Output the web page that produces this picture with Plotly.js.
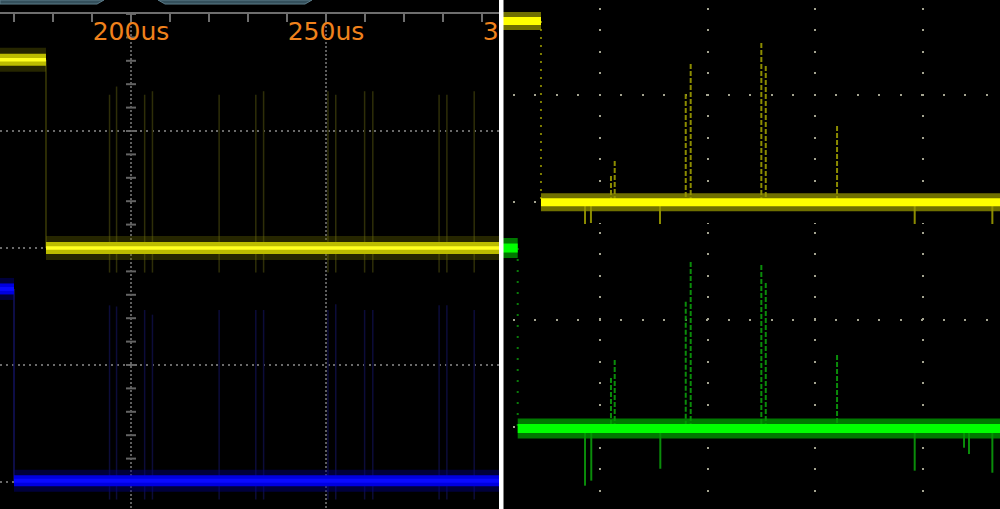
<!DOCTYPE html>
<html><head><meta charset="utf-8">
<script src="https://cdn.plot.ly/plotly-3.0.1.min.js"></script>
<style>html,body{margin:0;padding:0;background:#000;}#chart{width:1000px;height:509px;}</style>
</head><body><div id="chart"></div>
<script>
// ===== Left capture: time in microseconds, vertical in divisions =====
const leftTickVals = [200, 250, 300];
const leftTickText = ['200us', '250us', '300us'];
const leftTimeSpan = [166.41, 315.13];

const ch1Times = [166.4, 178.2, 315];      // start, falling edge, end
const ch1Levels = [3.61, 2.0];             // high, low
const ch2Times = [166.4, 170.0, 315];
const ch2Levels = [1.65, 0.01];

const glitchTimes = [194.5, 196.3, 203.5, 205.5, 222.6, 232.0, 234.0, 250.5, 252.5, 259.9, 262.0, 279.0, 281.0, 288.0];
const ch1GlitchTop = [3.31, 3.38, 3.31, 3.34, 3.31, 3.31, 3.34, 3.34, 3.31, 3.34, 3.34, 3.31, 3.31, 3.34];
const ch1GlitchBottom = 1.79;
const ch2GlitchTop = [1.51, 1.50, 1.47, 1.43, 1.47, 1.47, 1.47, 1.47, 1.52, 1.47, 1.47, 1.51, 1.51, 1.47];
const ch2GlitchBottom = -0.15;

// ===== Right capture: both axes in divisions =====
const rightSpan = [-0.9006, 3.714];
const yellowEdge = -0.548;
const yellowLevels = [1.69, 0.0];
const greenEdge = -0.764;
const greenLevels = [1.668, -0.015];

const upSpikeX = [0.102, 0.1365, 0.796, 0.842, 1.498, 1.539, 2.201];
const yellowUpTop = [0.245, 0.385, 1.009, 1.289, 1.485, 1.270, 0.710];
const greenUpTop = [0.457, 0.624, 1.168, 1.538, 1.510, 1.342, 0.671];
const yellowDownX = [-0.139, -0.084, 0.557, 2.922, 3.643];
const yellowDownBottom = [-0.212, -0.193, -0.218, -0.218, -0.218];
const greenDownX = [-0.139, -0.081, 0.560, 2.922, 3.380, 3.426, 3.643];
const greenDownBottom = [-0.547, -0.500, -0.389, -0.407, -0.193, -0.252, -0.426];

// ---------- helpers ----------
function levelPath(times, levels) {
  return {x: [times[0], times[1], null, times[1], times[2]], y: [levels[0], levels[0], null, levels[1], levels[1]]};
}
function spikes(xs, tops, base) {
  const x = [], y = [];
  xs.forEach((v, i) => {
    x.push(v, v, null);
    y.push(Array.isArray(tops) ? tops[i] : tops, Array.isArray(base) ? base[i] : base, null);
  });
  return {x, y};
}
function line(xy, color, width, xa, ya, dash) {
  return {type: 'scatter', mode: 'lines', x: xy.x, y: xy.y, xaxis: xa, yaxis: ya,
    line: {color, width, dash: dash || 'solid'}, hoverinfo: 'skip', connectgaps: false};
}

const traces = [];
// Left panel
const c1 = levelPath(ch1Times, ch1Levels);
const c2 = levelPath(ch2Times, ch2Levels);
traces.push(line(spikes(glitchTimes, ch1GlitchTop, ch1GlitchBottom), '#2e2e08', 1.5, 'x', 'y'));
traces.push(line(spikes(glitchTimes, ch2GlitchTop, ch2GlitchBottom), '#0c0c3a', 1.5, 'x', 'y'));
traces.push(line({x: [ch1Times[1], ch1Times[1]], y: ch1Levels}, '#3a3a06', 1.5, 'x', 'y'));
traces.push(line({x: [ch2Times[1], ch2Times[1]], y: ch2Levels}, '#12125e', 1.5, 'x', 'y'));
traces.push(line(c1, 'rgba(110,110,0,0.35)', 24, 'x', 'y'));
traces.push(line(c1, '#bcbc00', 12, 'x', 'y'));
traces.push(line(c1, '#ffff20', 3.5, 'x', 'y'));
traces.push(line(c2, 'rgba(0,0,130,0.45)', 22, 'x', 'y'));
traces.push(line(c2, '#0000e0', 11, 'x', 'y'));
traces.push(line(c2, '#0a0aff', 4, 'x', 'y'));

// Right panel – yellow (top)
const ry = levelPath([rightSpan[0], yellowEdge, rightSpan[1]], yellowLevels);
traces.push(line({x: [yellowEdge, yellowEdge], y: yellowLevels}, '#7c7c00', 2, 'x2', 'y2', '2px,6px'));
traces.push(line(spikes(upSpikeX, yellowUpTop, yellowLevels[1]), '#8c8c00', 2, 'x2', 'y2', '5px,2px'));
traces.push(line(spikes(yellowDownX, yellowDownBottom, yellowLevels[1]), '#8c8c00', 2, 'x2', 'y2'));
traces.push(line(ry, 'rgba(150,150,0,0.75)', 18, 'x2', 'y2'));
traces.push(line(ry, '#ffff00', 8, 'x2', 'y2'));

// Right panel – green (bottom)
const rg = levelPath([rightSpan[0], greenEdge, rightSpan[1]], greenLevels);
traces.push(line({x: [greenEdge, greenEdge], y: greenLevels}, '#0a7a0a', 2, 'x2', 'y3', '2px,9px'));
traces.push(line(spikes(upSpikeX, greenUpTop, greenLevels[1]), '#0a8c0a', 2, 'x2', 'y3', '5px,2px'));
traces.push(line(spikes(greenDownX, greenDownBottom, greenLevels[1]), '#0a8c0a', 2, 'x2', 'y3'));
traces.push(line(rg, 'rgba(0,150,0,0.8)', 20, 'x2', 'y3'));
traces.push(line(rg, '#00ff00', 9, 'x2', 'y3'));

// ---------- graticule decorations ----------
const shapes = [];
// centre-axis cross ticks on the 200us line
for (let k = 1; k <= 21; k++) {
  shapes.push({type: 'line', xref: 'x', yref: 'y', xsizemode: 'pixel', xanchor: 200, x0: -5, x1: 5,
    y0: k * 0.2 - 0.2, y1: k * 0.2 - 0.2, line: {color: '#646464', width: 2}, layer: 'below'});
}
// tabs at the very top
shapes.push({type: 'path', xref: 'paper', yref: 'paper', path: 'M 0,1 L 0.104,1 L 0.097,0.9921 L 0,0.9921 Z',
  fillcolor: '#34505c', line: {color: '#5c7c8a', width: 1}, layer: 'above'});
shapes.push({type: 'path', xref: 'paper', yref: 'paper', path: 'M 0.158,1 L 0.312,1 L 0.305,0.9921 L 0.165,0.9921 Z',
  fillcolor: '#34505c', line: {color: '#5c7c8a', width: 1}, layer: 'above'});
// white divider between the two captures
shapes.push({type: 'rect', xref: 'paper', yref: 'paper', x0: 0.499, x1: 0.5035, y0: 0, y1: 1,
  fillcolor: '#ffffff', line: {width: 0}, layer: 'above'});

const gridGrey = '#6a6a6a';
const dotGrey = '#a4a490';
const hidden = {showticklabels: false, ticks: '', showline: false, zeroline: false};

const layout = {
  width: 1000, height: 509, margin: {l: 0, r: 0, t: 0, b: 0, pad: 0},
  paper_bgcolor: '#000', plot_bgcolor: '#000', showlegend: false, hovermode: false,
  xaxis: {domain: [0, 0.58], range: leftTimeSpan, side: 'top', anchor: 'y',
    showline: true, linecolor: '#6e6e6e', linewidth: 2, zeroline: false,
    tickmode: 'array', tickvals: leftTickVals, ticktext: leftTickText,
    ticks: 'inside', ticklen: 8, tickwidth: 2, tickcolor: '#6e6e6e',
    ticklabelposition: 'inside', ticklabelstandoff: 2,
    tickfont: {family: 'DejaVu Sans', size: 25, color: '#f0821c'},
    minor: {tickmode: 'linear', tick0: 200, dtick: 10, ticks: 'inside', ticklen: 8, tickwidth: 2, tickcolor: '#6e6e6e', showgrid: false},
    showgrid: true, gridcolor: '#5e5e5e', gridwidth: 2, griddash: '2px,2px'},
  yaxis: Object.assign({domain: [0, 495 / 509], range: [-0.2308, 4], anchor: 'x',
    tickmode: 'array', tickvals: [0, 1, 2, 3],
    showgrid: true, gridcolor: gridGrey, gridwidth: 2, griddash: '2px,3.85px'}, hidden),
  xaxis2: Object.assign({domain: [0.503, 1], range: rightSpan, anchor: 'y3',
    tickmode: 'array', tickvals: [0, 1, 2, 3],
    showgrid: true, gridcolor: dotGrey, gridwidth: 2, griddash: '0px,7.7px,2px,11.8px'}, hidden),
  yaxis2: Object.assign({domain: [1 - 224 / 509, 1], range: [-0.2022, 1.8854], anchor: 'x2',
    tickmode: 'array', tickvals: [0, 1],
    showgrid: true, gridcolor: dotGrey, gridwidth: 2, griddash: '0px,9.7px,2px,9.8px'}, hidden),
  yaxis3: Object.assign({domain: [0, 1 - 224 / 509], range: [-0.7642, 1.8919], anchor: 'x2',
    tickmode: 'array', tickvals: [0, 1],
    showgrid: true, gridcolor: dotGrey, gridwidth: 2, griddash: '0px,9.7px,2px,9.8px'}, hidden),
  shapes: shapes
};

Plotly.newPlot('chart', traces, layout, {staticPlot: true, displayModeBar: false});
</script>
</body></html>
